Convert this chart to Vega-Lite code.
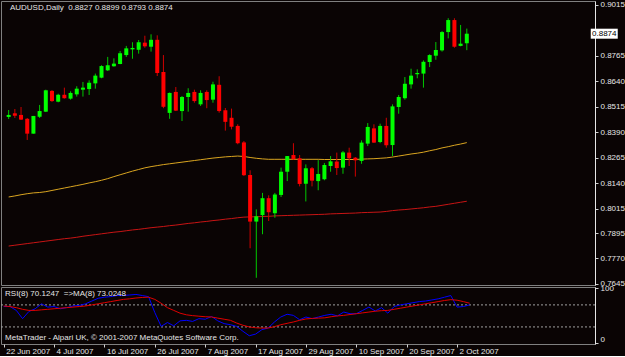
{
"$schema": "https://vega.github.io/schema/vega-lite/v6.json",
"background": "#0a0404",
"padding": 0,
"spacing": 2,
"bounds": "flush",
"config": {
  "font": "Liberation Sans",
  "view": {"stroke": "#808080", "strokeWidth": 1},
  "axis": {"labelColor": "#e6e6e6", "labelFontSize": 8, "labelFont": "Liberation Sans", "tickColor": "#d0d0d0", "domainColor": "#e6e6e6", "grid": false, "title": null, "labelOverlap": false},
  "axisY": {"labelOverlap": false}
},
"datasets": {
"bars": [
{"i":0,"d":"2007-06-22","o":0.8465,"h":0.8499,"l":0.8455,"c":0.8475,"ma1":0.8072,"ma2":0.7831,"rsi":67,"rsima":68},
{"i":1,"d":"2007-06-25","o":0.8483,"h":0.8504,"l":0.8460,"c":0.8471,"ma1":0.8077,"ma2":0.7835,"rsi":67,"rsima":67},
{"i":2,"d":"2007-06-26","o":0.8475,"h":0.8514,"l":0.8450,"c":0.8452,"ma1":0.8083,"ma2":0.7839,"rsi":60,"rsima":65},
{"i":3,"d":"2007-06-27","o":0.8456,"h":0.8460,"l":0.8352,"c":0.8383,"ma1":0.8088,"ma2":0.7843,"rsi":45,"rsima":62},
{"i":4,"d":"2007-06-28","o":0.8383,"h":0.8470,"l":0.8383,"c":0.8470,"ma1":0.8092,"ma2":0.7847,"rsi":58,"rsima":60},
{"i":5,"d":"2007-06-29","o":0.8466,"h":0.8524,"l":0.8460,"c":0.8494,"ma1":0.8094,"ma2":0.7851,"rsi":63,"rsima":60},
{"i":6,"d":"2007-07-02","o":0.8491,"h":0.8599,"l":0.8489,"c":0.8596,"ma1":0.8098,"ma2":0.7855,"rsi":72,"rsima":61},
{"i":7,"d":"2007-07-03","o":0.8593,"h":0.8597,"l":0.8539,"c":0.8543,"ma1":0.8104,"ma2":0.7859,"rsi":66,"rsima":62},
{"i":8,"d":"2007-07-04","o":0.8540,"h":0.8579,"l":0.8537,"c":0.8574,"ma1":0.8110,"ma2":0.7863,"rsi":67,"rsima":63},
{"i":9,"d":"2007-07-05","o":0.8574,"h":0.8609,"l":0.8555,"c":0.8557,"ma1":0.8116,"ma2":0.7867,"rsi":63,"rsima":64},
{"i":10,"d":"2007-07-06","o":0.8555,"h":0.8591,"l":0.8550,"c":0.8583,"ma1":0.8122,"ma2":0.7870,"rsi":65,"rsima":65},
{"i":11,"d":"2007-07-09","o":0.8576,"h":0.8616,"l":0.8565,"c":0.8604,"ma1":0.8128,"ma2":0.7874,"rsi":68,"rsima":66},
{"i":12,"d":"2007-07-10","o":0.8599,"h":0.8637,"l":0.8565,"c":0.8609,"ma1":0.8134,"ma2":0.7879,"rsi":69,"rsima":67},
{"i":13,"d":"2007-07-11","o":0.8602,"h":0.8645,"l":0.8573,"c":0.8633,"ma1":0.8141,"ma2":0.7883,"rsi":72,"rsima":68},
{"i":14,"d":"2007-07-12","o":0.8630,"h":0.8678,"l":0.8604,"c":0.8668,"ma1":0.8147,"ma2":0.7887,"rsi":77,"rsima":70},
{"i":15,"d":"2007-07-13","o":0.8658,"h":0.8719,"l":0.8655,"c":0.8715,"ma1":0.8154,"ma2":0.7891,"rsi":82,"rsima":72},
{"i":16,"d":"2007-07-16","o":0.8694,"h":0.8760,"l":0.8691,"c":0.8719,"ma1":0.8162,"ma2":0.7895,"rsi":84,"rsima":74},
{"i":17,"d":"2007-07-17","o":0.8714,"h":0.8753,"l":0.8712,"c":0.8727,"ma1":0.8172,"ma2":0.7899,"rsi":85,"rsima":76},
{"i":18,"d":"2007-07-18","o":0.8725,"h":0.8789,"l":0.8724,"c":0.8778,"ma1":0.8181,"ma2":0.7902,"rsi":87,"rsima":78},
{"i":19,"d":"2007-07-19","o":0.8769,"h":0.8814,"l":0.8760,"c":0.8802,"ma1":0.8190,"ma2":0.7906,"rsi":87,"rsima":80},
{"i":20,"d":"2007-07-20","o":0.8797,"h":0.8832,"l":0.8751,"c":0.8804,"ma1":0.8199,"ma2":0.7910,"rsi":88,"rsima":81},
{"i":21,"d":"2007-07-23","o":0.8795,"h":0.8843,"l":0.8776,"c":0.8832,"ma1":0.8207,"ma2":0.7913,"rsi":89,"rsima":82.5},
{"i":22,"d":"2007-07-24","o":0.8830,"h":0.8864,"l":0.8805,"c":0.8812,"ma1":0.8215,"ma2":0.7917,"rsi":87,"rsima":83.5},
{"i":23,"d":"2007-07-25","o":0.8810,"h":0.8871,"l":0.8786,"c":0.8844,"ma1":0.8221,"ma2":0.7921,"rsi":85,"rsima":84},
{"i":24,"d":"2007-07-26","o":0.8844,"h":0.8866,"l":0.8666,"c":0.8681,"ma1":0.8226,"ma2":0.7924,"rsi":56,"rsima":80},
{"i":25,"d":"2007-07-27","o":0.8686,"h":0.8769,"l":0.8508,"c":0.8515,"ma1":0.8231,"ma2":0.7927,"rsi":31,"rsima":73},
{"i":26,"d":"2007-07-30","o":0.8485,"h":0.8585,"l":0.8456,"c":0.8583,"ma1":0.8235,"ma2":0.7931,"rsi":38,"rsima":65},
{"i":27,"d":"2007-07-31","o":0.8588,"h":0.8612,"l":0.8494,"c":0.8496,"ma1":0.8239,"ma2":0.7934,"rsi":32,"rsima":60},
{"i":28,"d":"2007-08-01","o":0.8494,"h":0.8568,"l":0.8445,"c":0.8563,"ma1":0.8243,"ma2":0.7938,"rsi":41,"rsima":55},
{"i":29,"d":"2007-08-02","o":0.8563,"h":0.8606,"l":0.8491,"c":0.8583,"ma1":0.8247,"ma2":0.7942,"rsi":42,"rsima":52},
{"i":30,"d":"2007-08-03","o":0.8588,"h":0.8599,"l":0.8535,"c":0.8543,"ma1":0.8251,"ma2":0.7945,"rsi":40,"rsima":50.5},
{"i":31,"d":"2007-08-06","o":0.8527,"h":0.8596,"l":0.8519,"c":0.8583,"ma1":0.8255,"ma2":0.7949,"rsi":45,"rsima":49.5},
{"i":32,"d":"2007-08-07","o":0.8588,"h":0.8596,"l":0.8508,"c":0.8548,"ma1":0.8259,"ma2":0.7952,"rsi":44,"rsima":48.5},
{"i":33,"d":"2007-08-08","o":0.8550,"h":0.8638,"l":0.8535,"c":0.8625,"ma1":0.8263,"ma2":0.7956,"rsi":49,"rsima":48},
{"i":34,"d":"2007-08-09","o":0.8623,"h":0.8665,"l":0.8486,"c":0.8494,"ma1":0.8266,"ma2":0.7959,"rsi":41,"rsima":46},
{"i":35,"d":"2007-08-10","o":0.8498,"h":0.8509,"l":0.8398,"c":0.8441,"ma1":0.8269,"ma2":0.7963,"rsi":36,"rsima":44},
{"i":36,"d":"2007-08-13","o":0.8461,"h":0.8506,"l":0.8404,"c":0.8417,"ma1":0.8271,"ma2":0.7966,"rsi":34,"rsima":42},
{"i":37,"d":"2007-08-14","o":0.8421,"h":0.8429,"l":0.8331,"c":0.8336,"ma1":0.8273,"ma2":0.7970,"rsi":31,"rsima":37},
{"i":38,"d":"2007-08-15","o":0.8340,"h":0.8347,"l":0.8175,"c":0.8179,"ma1":0.8271,"ma2":0.7973,"rsi":22,"rsima":33},
{"i":39,"d":"2007-08-16","o":0.8180,"h":0.8203,"l":0.7820,"c":0.7951,"ma1":0.8266,"ma2":0.7974,"rsi":14,"rsima":30},
{"i":40,"d":"2007-08-17","o":0.7951,"h":0.8011,"l":0.7675,"c":0.7977,"ma1":0.8262,"ma2":0.7975,"rsi":17,"rsima":28.5},
{"i":41,"d":"2007-08-20","o":0.7983,"h":0.8092,"l":0.7889,"c":0.8066,"ma1":0.8259,"ma2":0.7976,"rsi":25,"rsima":28},
{"i":42,"d":"2007-08-21","o":0.8066,"h":0.8080,"l":0.7954,"c":0.7997,"ma1":0.8257,"ma2":0.7977,"rsi":28,"rsima":28},
{"i":43,"d":"2007-08-22","o":0.7992,"h":0.8092,"l":0.7970,"c":0.8084,"ma1":0.8257,"ma2":0.7979,"rsi":39,"rsima":30.5},
{"i":44,"d":"2007-08-23","o":0.8082,"h":0.8216,"l":0.8072,"c":0.8196,"ma1":0.8257,"ma2":0.7980,"rsi":48,"rsima":34},
{"i":45,"d":"2007-08-24","o":0.8196,"h":0.8273,"l":0.8150,"c":0.8273,"ma1":0.8257,"ma2":0.7981,"rsi":53,"rsima":36.5},
{"i":46,"d":"2007-08-27","o":0.8278,"h":0.8336,"l":0.8257,"c":0.8257,"ma1":0.8257,"ma2":0.7982,"rsi":51,"rsima":39},
{"i":47,"d":"2007-08-28","o":0.8262,"h":0.8278,"l":0.8124,"c":0.8136,"ma1":0.8257,"ma2":0.7983,"rsi":43,"rsima":42},
{"i":48,"d":"2007-08-29","o":0.8137,"h":0.8232,"l":0.8050,"c":0.8213,"ma1":0.8257,"ma2":0.7984,"rsi":48,"rsima":44.5},
{"i":49,"d":"2007-08-30","o":0.8213,"h":0.8219,"l":0.8124,"c":0.8152,"ma1":0.8257,"ma2":0.7985,"rsi":45,"rsima":45.5},
{"i":50,"d":"2007-08-31","o":0.8150,"h":0.8253,"l":0.8105,"c":0.8185,"ma1":0.8257,"ma2":0.7986,"rsi":48,"rsima":46},
{"i":51,"d":"2007-09-03","o":0.8159,"h":0.8239,"l":0.8154,"c":0.8229,"ma1":0.8256,"ma2":0.7987,"rsi":51,"rsima":46.5},
{"i":52,"d":"2007-09-04","o":0.8224,"h":0.8273,"l":0.8196,"c":0.8247,"ma1":0.8256,"ma2":0.7989,"rsi":53,"rsima":48.5},
{"i":53,"d":"2007-09-05","o":0.8246,"h":0.8290,"l":0.8180,"c":0.8214,"ma1":0.8256,"ma2":0.7990,"rsi":50,"rsima":50},
{"i":54,"d":"2007-09-06","o":0.8216,"h":0.8298,"l":0.8186,"c":0.8291,"ma1":0.8256,"ma2":0.7991,"rsi":57,"rsima":51},
{"i":55,"d":"2007-09-07","o":0.8290,"h":0.8314,"l":0.8224,"c":0.8262,"ma1":0.8256,"ma2":0.7992,"rsi":54,"rsima":52.5},
{"i":56,"d":"2007-09-10","o":0.8265,"h":0.8268,"l":0.8172,"c":0.8252,"ma1":0.8256,"ma2":0.7993,"rsi":54,"rsima":54},
{"i":57,"d":"2007-09-11","o":0.8249,"h":0.8350,"l":0.8235,"c":0.8339,"ma1":0.8258,"ma2":0.7995,"rsi":60,"rsima":55.5},
{"i":58,"d":"2007-09-12","o":0.8334,"h":0.8435,"l":0.8322,"c":0.8416,"ma1":0.8259,"ma2":0.7996,"rsi":66,"rsima":57},
{"i":59,"d":"2007-09-13","o":0.8409,"h":0.8429,"l":0.8337,"c":0.8339,"ma1":0.8260,"ma2":0.7997,"rsi":59,"rsima":58.5},
{"i":60,"d":"2007-09-14","o":0.8342,"h":0.8432,"l":0.8336,"c":0.8421,"ma1":0.8262,"ma2":0.7998,"rsi":65,"rsima":59.5},
{"i":61,"d":"2007-09-17","o":0.8421,"h":0.8461,"l":0.8314,"c":0.8326,"ma1":0.8264,"ma2":0.8001,"rsi":55,"rsima":60},
{"i":62,"d":"2007-09-18","o":0.8327,"h":0.8527,"l":0.8273,"c":0.8517,"ma1":0.8268,"ma2":0.8005,"rsi":67,"rsima":62},
{"i":63,"d":"2007-09-19","o":0.8514,"h":0.8573,"l":0.8481,"c":0.8563,"ma1":0.8273,"ma2":0.8008,"rsi":70,"rsima":64},
{"i":64,"d":"2007-09-20","o":0.8557,"h":0.8661,"l":0.8550,"c":0.8628,"ma1":0.8278,"ma2":0.8010,"rsi":72,"rsima":66},
{"i":65,"d":"2007-09-21","o":0.8625,"h":0.8702,"l":0.8604,"c":0.8668,"ma1":0.8283,"ma2":0.8013,"rsi":74,"rsima":68},
{"i":66,"d":"2007-09-24","o":0.8675,"h":0.8699,"l":0.8655,"c":0.8681,"ma1":0.8287,"ma2":0.8016,"rsi":76,"rsima":70},
{"i":67,"d":"2007-09-25","o":0.8678,"h":0.8743,"l":0.8609,"c":0.8736,"ma1":0.8292,"ma2":0.8019,"rsi":77,"rsima":72},
{"i":68,"d":"2007-09-26","o":0.8735,"h":0.8773,"l":0.8710,"c":0.8769,"ma1":0.8299,"ma2":0.8023,"rsi":79,"rsima":74},
{"i":69,"d":"2007-09-27","o":0.8766,"h":0.8833,"l":0.8746,"c":0.8794,"ma1":0.8305,"ma2":0.8026,"rsi":81,"rsima":76},
{"i":70,"d":"2007-09-28","o":0.8792,"h":0.8887,"l":0.8786,"c":0.8882,"ma1":0.8313,"ma2":0.8031,"rsi":84,"rsima":78},
{"i":71,"d":"2007-10-01","o":0.8882,"h":0.8950,"l":0.8851,"c":0.8941,"ma1":0.8319,"ma2":0.8036,"rsi":87,"rsima":79.5},
{"i":72,"d":"2007-10-02","o":0.8941,"h":0.8950,"l":0.8805,"c":0.8810,"ma1":0.8326,"ma2":0.8041,"rsi":66,"rsima":78.5},
{"i":73,"d":"2007-10-03","o":0.8814,"h":0.8917,"l":0.8812,"c":0.8825,"ma1":0.8332,"ma2":0.8046,"rsi":67,"rsima":76},
{"i":74,"d":"2007-10-04","o":0.8827,"h":0.8899,"l":0.8793,"c":0.8874,"ma1":0.8339,"ma2":0.8051,"rsi":70.12,"rsima":73.02}
],
"levels": [{"level": 30}, {"level": 70}]
},
"vconcat": [
{
  "width": 594, "height": 284,
  "layer": [
    {"data": {"name": "bars"}, "mark": {"type": "line", "color": "#daa520", "strokeWidth": 1},
     "encoding": {
       "x": {"field": "i", "type": "quantitative", "scale": {"domain": [-0.4288, 93.9], "nice": false, "zero": false}, "axis": null},
       "y": {"field": "ma1", "type": "quantitative", "scale": {"domain": [0.76396, 0.90346], "nice": false, "zero": false},
             "axis": {"orient": "right", "values": [0.9015, 0.8765, 0.8640, 0.8515, 0.8390, 0.8265, 0.8140, 0.8015, 0.7895, 0.7770, 0.7645], "format": ".4f", "tickSize": 3, "labelPadding": 2, "labelOverlap": false}}
     }},
    {"data": {"name": "bars"}, "mark": {"type": "line", "color": "#c81414", "strokeWidth": 1},
     "encoding": {"x": {"field": "i", "type": "quantitative"},
       "y": {"field": "ma2", "type": "quantitative", "axis": {"orient": "right", "values": [0.9015, 0.8765, 0.8640, 0.8515, 0.8390, 0.8265, 0.8140, 0.8015, 0.7895, 0.7770, 0.7645], "format": ".4f", "tickSize": 3, "labelPadding": 2, "labelOverlap": false}}}},
    {"data": {"name": "bars"}, "mark": {"type": "rule", "strokeWidth": 1},
     "encoding": {"x": {"field": "i", "type": "quantitative"},
       "y": {"field": "l", "type": "quantitative", "axis": {"orient": "right", "values": [0.9015, 0.8765, 0.8640, 0.8515, 0.8390, 0.8265, 0.8140, 0.8015, 0.7895, 0.7770, 0.7645], "format": ".4f", "tickSize": 3, "labelPadding": 2, "labelOverlap": false}}, "y2": {"field": "h"},
       "color": {"condition": {"test": "datum.c >= datum.o", "value": "#00c800"}, "value": "#d00000"}}},
    {"data": {"name": "bars"}, "mark": {"type": "bar", "width": 4},
     "encoding": {"x": {"field": "i", "type": "quantitative"},
       "y": {"field": "o", "type": "quantitative", "axis": {"orient": "right", "values": [0.9015, 0.8765, 0.8640, 0.8515, 0.8390, 0.8265, 0.8140, 0.8015, 0.7895, 0.7770, 0.7645], "format": ".4f", "tickSize": 3, "labelPadding": 2, "labelOverlap": false}}, "y2": {"field": "c"},
       "color": {"condition": {"test": "datum.c >= datum.o", "value": "#00ff00"}, "value": "#ff0000"}}},
    {"data": {"values": [{"t": "AUDUSD,Daily\u00a0 0.8827 0.8899 0.8793 0.8874"}]},
     "mark": {"type": "text", "align": "left", "baseline": "middle", "color": "#e6e6e6", "fontSize": 8},
     "encoding": {"x": {"datum": 0.21, "type": "quantitative"},
       "y": {"datum": 0.9000, "type": "quantitative", "axis": {"orient": "right", "values": [0.9015, 0.8765, 0.8640, 0.8515, 0.8390, 0.8265, 0.8140, 0.8015, 0.7895, 0.7770, 0.7645], "format": ".4f", "tickSize": 3, "labelPadding": 2, "labelOverlap": false}}, "text": {"field": "t"}}},
    {"data": {"name": "bars"}, "transform": [{"filter": "datum.i == 74"}],
     "mark": {"type": "point", "shape": "M-1,-0.37L1,-0.37L1,0.37L-1,0.37Z", "filled": true, "color": "#ffffff", "opacity": 1, "size": 729},
     "encoding": {"x": {"datum": 96.2, "type": "quantitative"},
       "y": {"field": "c", "type": "quantitative", "axis": {"orient": "right", "values": [0.9015, 0.8765, 0.8640, 0.8515, 0.8390, 0.8265, 0.8140, 0.8015, 0.7895, 0.7770, 0.7645], "format": ".4f", "tickSize": 3, "labelPadding": 2, "labelOverlap": false}}}},
    {"data": {"name": "bars"}, "transform": [{"filter": "datum.i == 74"}],
     "mark": {"type": "text", "align": "center", "baseline": "middle", "color": "#000000", "fontSize": 8},
     "encoding": {"x": {"datum": 96.2, "type": "quantitative"},
       "y": {"field": "c", "type": "quantitative", "axis": {"orient": "right", "values": [0.9015, 0.8765, 0.8640, 0.8515, 0.8390, 0.8265, 0.8140, 0.8015, 0.7895, 0.7770, 0.7645], "format": ".4f", "tickSize": 3, "labelPadding": 2, "labelOverlap": false}}, "text": {"field": "c", "format": ".4f"}}}
  ]
},
{
  "width": 594, "height": 57,
  "layer": [
    {"data": {"name": "levels"}, "mark": {"type": "rule", "color": "#a0a0a0", "strokeDash": [2, 2], "strokeWidth": 1},
     "encoding": {"y": {"field": "level", "type": "quantitative", "scale": {"domain": [-1, 102.5], "nice": false, "zero": false},
       "axis": {"orient": "right", "values": [0, 30, 70, 100], "format": "d", "labelFlush": true, "labelOverlap": false, "tickSize": 3, "labelPadding": 2}}}},
    {"data": {"name": "bars"}, "mark": {"type": "line", "color": "#0000ff", "strokeWidth": 1},
     "encoding": {
       "x": {"field": "i", "type": "quantitative", "scale": {"domain": [-0.4288, 93.9], "nice": false, "zero": false},
             "axis": {"values": [0, 8, 16, 24, 32, 40, 48, 56, 64, 72], "labelExpr": "['22 Jun 2007','4 Jul 2007','16 Jul 2007','26 Jul 2007','7 Aug 2007','17 Aug 2007','29 Aug 2007','10 Sep 2007','20 Sep 2007','2 Oct 2007'][round(datum.value/8)]", "labelAlign": "left", "labelOffset": 2, "labelFlush": false, "labelOverlap": false, "tickSize": 3, "labelPadding": 0, "domain": false}},
       "y": {"field": "rsi", "type": "quantitative"}
     }},
    {"data": {"name": "bars"}, "mark": {"type": "line", "color": "#e00000", "strokeWidth": 1},
     "encoding": {"x": {"field": "i", "type": "quantitative"}, "y": {"field": "rsima", "type": "quantitative"}}},
    {"data": {"values": [{"t": "RSI(8) 70.1247\u00a0 =>MA(8) 73.0248"}]},
     "mark": {"type": "text", "align": "left", "baseline": "middle", "color": "#e6e6e6", "fontSize": 8},
     "encoding": {"x": {"datum": 0.21, "type": "quantitative"}, "y": {"datum": 89.2, "type": "quantitative"}, "text": {"field": "t"}}},
    {"data": {"values": [{"t": "MetaTrader - Alpari UK, © 2001-2007 MetaQuotes Software Corp."}]},
     "mark": {"type": "text", "align": "left", "baseline": "middle", "color": "#e6e6e6", "fontSize": 8},
     "encoding": {"x": {"datum": 0.21, "type": "quantitative"}, "y": {"datum": 10.4, "type": "quantitative"}, "text": {"field": "t"}}}
  ]
}
]
}
